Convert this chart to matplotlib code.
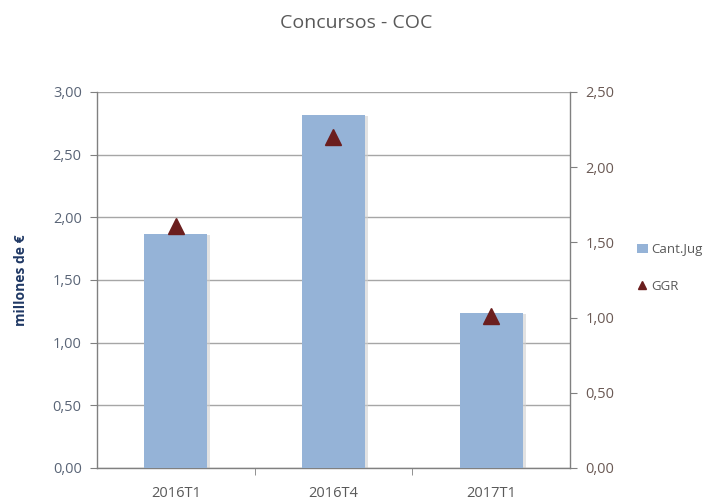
import matplotlib.pyplot as plt
from matplotlib.ticker import FuncFormatter, FixedLocator

plt.rcParams['font.family'] = ['Open Sans', 'DejaVu Sans']

periodos = ["2016T1", "2016T4", "2017T1"]
cant_jug = [1.87, 2.82, 1.24]
ggr = [1.61, 2.20, 1.01]

bar_color = "#95B3D7"
tri_color = "#6B1E1E"
txt_color = "#595959"
grid_color = "#A6A6A6"

fig = plt.figure(figsize=(7.12, 5.01), dpi=100)
ax = fig.add_axes([0.1362, 0.0659, 0.6643, 0.7505])
ax2 = ax.twinx()

x = list(range(len(periodos)))
# sombra de las barras
ax.bar([i + 0.02 for i in x], [v - 0.01 for v in cant_jug], width=0.4,
       color="#D0D0D0", alpha=0.6, zorder=2)
ax.bar(x, cant_jug, width=0.4, color=bar_color, zorder=3, label="Cant.Jug")
ax2.plot(x, ggr, linestyle="none", marker="^", markersize=11,
         color=tri_color, label="GGR", zorder=4)

ax.set_xlim(-0.5, 2.5)
ax.set_ylim(0, 3)
ax2.set_ylim(0, 2.5)
ax.set_yticks([0, 0.5, 1, 1.5, 2, 2.5, 3])
ax2.set_yticks([0, 0.5, 1, 1.5, 2, 2.5])
fmt = FuncFormatter(lambda v, p: f"{v:.2f}".replace(".", ","))
ax.yaxis.set_major_formatter(fmt)
ax2.yaxis.set_major_formatter(fmt)

ax.set_xticks(x)
ax.set_xticklabels(periodos)
ax.xaxis.set_minor_locator(FixedLocator([0.5, 1.5]))
ax.tick_params(axis="x", which="major", length=0, labelsize=10.5, labelcolor=txt_color, pad=13)
ax.tick_params(axis="x", which="minor", length=5, color="#808080", direction="out")
ax.tick_params(axis="y", length=5, color="#808080", labelsize=10.5, labelcolor="#5A6577", pad=6)
ax2.tick_params(axis="y", length=5, color="#808080", labelsize=10.5, labelcolor="#6B5A55", pad=6)

ax.yaxis.grid(True, color=grid_color, linewidth=1)
ax.set_axisbelow(True)
for s in ["top", "right"]:
    ax.spines[s].set_visible(False)
ax2.spines["top"].set_visible(False)
ax2.spines["left"].set_visible(False)
for sp in [ax.spines["left"], ax.spines["bottom"], ax2.spines["right"]]:
    sp.set_color("#808080")
    sp.set_linewidth(1)
ax2.spines["bottom"].set_visible(False)

ax.set_ylabel("millones de €", fontsize=10, fontweight="bold", color="#1F3864", labelpad=18)

fig.text(0.5, 0.955, "Concursos - COC", ha="center", va="center",
         fontsize=14, color=txt_color)

h1, l1 = ax.get_legend_handles_labels()
h2, l2 = ax2.get_legend_handles_labels()
leg = fig.legend(h1 + h2, l1 + l2, loc="center left", bbox_to_anchor=(0.878, 0.465),
                 frameon=False, fontsize=9.5, labelcolor=txt_color,
                 handlelength=0.8, handletextpad=0.3, labelspacing=1.8, markerscale=0.55)

fig.savefig("out.png", dpi=100)
